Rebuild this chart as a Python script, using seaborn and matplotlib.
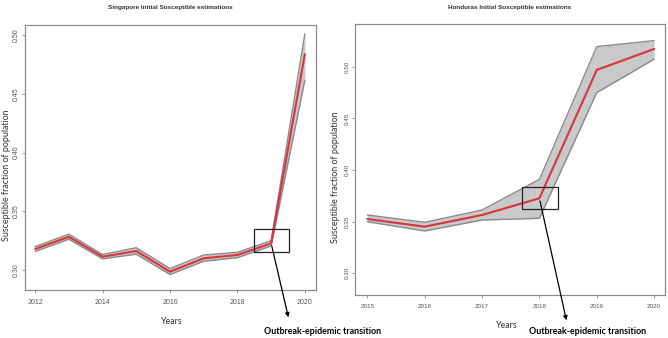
"""Initial susceptible estimations, Singapore and Honduras"""

import matplotlib
matplotlib.use("Agg")
import matplotlib.pyplot as plt
import pandas as pd
import seaborn as sns
from matplotlib.patches import Rectangle

sg_years = [2012, 2013, 2014, 2015, 2016, 2017, 2018, 2019, 2020]
sg_mid = [0.3179, 0.3283, 0.3113, 0.3162, 0.2986, 0.3100, 0.3128, 0.3227, 0.4838]
sg_upper = [0.3200, 0.3305, 0.3132, 0.3190, 0.3012, 0.3128, 0.3150, 0.3250, 0.5010]
sg_lower = [0.3158, 0.3262, 0.3095, 0.3135, 0.2962, 0.3075, 0.3105, 0.3205, 0.4615]

hn_years = [2015, 2016, 2017, 2018, 2019, 2020]
hn_mid = [0.3526, 0.3452, 0.3565, 0.3727, 0.4970, 0.5173]
hn_upper = [0.3565, 0.3494, 0.3613, 0.3910, 0.5196, 0.5254]
hn_lower = [0.3500, 0.3410, 0.3516, 0.3533, 0.4750, 0.5074]

sns.set_theme(style="white")
plt.rcParams['font.family'] = ['Liberation Sans Narrow', 'Liberation Sans', 'DejaVu Sans']

RED = "#d9343c"
EDGE = "#8a8a8a"
FILL = "#c9c9c9"
FRAME = "#8c8c8c"


def draw_panel(ax, years, mid, upper, lower, xticks, yticks, tick_size):
    df = pd.DataFrame({'year': years, 'mid': mid, 'upper': upper, 'lower': lower})
    ax.fill_between(df['year'], df['lower'], df['upper'], color=FILL, lw=0, zorder=1)
    sns.lineplot(data=df, x='year', y='upper', ax=ax, color=EDGE, lw=1.0, zorder=2)
    sns.lineplot(data=df, x='year', y='lower', ax=ax, color=EDGE, lw=1.0, zorder=2)
    sns.lineplot(data=df, x='year', y='mid', ax=ax, color=RED, lw=1.5, zorder=3)
    ax.set_xlabel("")
    ax.set_ylabel("")
    ax.set_xticks(xticks)
    ax.set_xticklabels([str(t) for t in xticks], fontsize=tick_size, color="#555555")
    ax.set_yticks(yticks)
    ax.set_yticklabels(["%.2f" % t for t in yticks], fontsize=tick_size, color="#555555",
                       rotation=90, va='center')
    ax.tick_params(axis='both', length=2.5, width=0.6, color=FRAME, pad=1.5, direction='out',
                   bottom=True, left=True)
    ax.tick_params(axis='x', pad=4)
    for sp in ax.spines.values():
        sp.set_color(FRAME)
        sp.set_linewidth(0.9)


fig = plt.figure(figsize=(6.68, 3.38), dpi=100)

ax1 = fig.add_axes([25 / 668, 48 / 338, 291 / 668, 265 / 338])
draw_panel(ax1, sg_years, sg_mid, sg_upper, sg_lower,
           [2012, 2014, 2016, 2018, 2020], [0.30, 0.35, 0.40, 0.45, 0.50], 5)
ax1.set_xlim(2011.7, 2020.33)
ax1.set_ylim(0.283, 0.5085)
ax1.add_patch(Rectangle((2018.49, 0.3151), 1.04, 0.0198, fill=False, ec='#222222', lw=0.9, zorder=4))

ax2 = fig.add_axes([355 / 668, 43 / 338, 310 / 668, 271 / 338])
draw_panel(ax2, hn_years, hn_mid, hn_upper, hn_lower,
           [2015, 2016, 2017, 2018, 2019, 2020], [0.30, 0.35, 0.40, 0.45, 0.50], 4.5)
ax2.set_xlim(2014.785, 2020.19)
ax2.set_ylim(0.279, 0.5415)
ax2.add_patch(Rectangle((2017.70, 0.3620), 0.63, 0.0213, fill=False, ec='#222222', lw=0.9, zorder=4))

# titles
fig.text(170 / 668, 330 / 338, "Singapore Initial Susceptible estimations", ha='center', va='center',
         fontsize=4.6, fontweight='bold', color='#333333')
fig.text(510 / 668, 331 / 338, "Honduras Initial Susceptible estimations", ha='center', va='center',
         fontsize=4.6, fontweight='bold', color='#333333')

# axis labels
lab = dict(family=['Lato', 'DejaVu Sans'], fontsize=6.4, color='#333333')
fig.text(172 / 668, 16 / 338, "Years", ha='center', va='center', **lab)
fig.text(507 / 668, 13 / 338, "Years", ha='center', va='center', **lab)
fig.text(7 / 668, 163 / 338, "Susceptible fraction of population", ha='center', va='center',
         rotation=90, **lab)
fig.text(336 / 668, 161 / 338, "Susceptible fraction of population", ha='center', va='center',
         rotation=90, **lab)

# transition arrows and notes
arrow = dict(arrowstyle='-|>', color='black', lw=0.9, mutation_scale=6)
ax1.annotate("", xy=(289, 18), xycoords='figure pixels', xytext=(2019.0, 0.3227),
             textcoords='data', arrowprops=arrow, annotation_clip=False)
ax2.annotate("", xy=(567, 15), xycoords='figure pixels', xytext=(2018.0, 0.3727),
             textcoords='data', arrowprops=arrow, annotation_clip=False)
note = dict(family=['Lato', 'DejaVu Sans'], fontsize=6.4, fontweight='bold', color='black',
            ha='center', va='center')
fig.text(322.5 / 668, 7 / 338, "Outbreak-epidemic transition", **note)
fig.text(587.5 / 668, 7 / 338, "Outbreak-epidemic transition", **note)

fig.savefig("out.png", dpi=100)
